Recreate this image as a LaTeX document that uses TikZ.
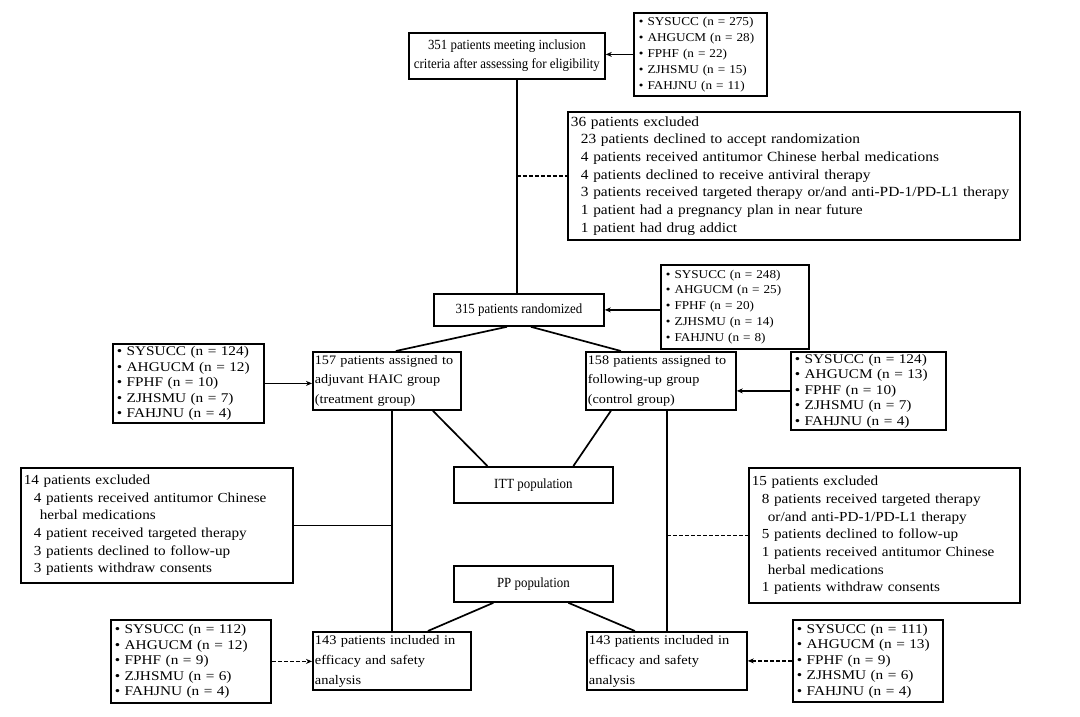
\documentclass[tikz,border=0pt]{standalone}
\usepackage{fontspec}
\setmainfont{Liberation Serif}
\newfontfamily\widefont{Liberation Serif}[FakeStretch=1.1]
\newfontfamily\widerfont{Liberation Serif}[FakeStretch=1.15]
\newfontfamily\condfont{Liberation Serif}[FakeStretch=0.92]
\usetikzlibrary{arrows.meta}
\newcommand{\sitelist}[5]{• SYSUCC (n = #1)\\• AHGUCM (n = #2)\\• FPHF (n = #3)\\• ZJHSMU (n = #4)\\• FAHJNU (n = #5)}
\newcommand{\ind}{\hspace*{10pt}}
\begin{document}
\begin{tikzpicture}[x=1pt,y=-1pt,
  bx/.style={draw, line width=1.8pt, inner xsep=5pt, inner ysep=0pt, anchor=north west, align=left},
  cbox/.style={bx, align=center, font=\condfont\fontsize{14}{19.5}\selectfont},
  gbox/.style={bx, inner xsep=2pt, font=\widefont\fontsize{12.9}{19.5}\selectfont},
  sitebox/.style={bx, font=\widerfont\fontsize{13.3}{15.5}\selectfont, inner xsep=4pt},
  smallsite/.style={bx, font=\widefont\fontsize{12}{16}\selectfont, inner xsep=5pt},
  exbox/.style={bx, font=\widefont\fontsize{13.8}{17.7}\selectfont, inner xsep=3pt},
  ln/.style={line width=1.7pt},
  dln/.style={ln, dash pattern=on 4pt off 2pt},
  arr/.style={line width=1.7pt, -{Stealth[length=6pt,width=5pt]}},
]
\useasboundingbox (0,0) rectangle (1080,717);

% top
\node[cbox, minimum width=196pt, minimum height=46pt] (top) at (408,32)
  {351 patients meeting inclusion\\criteria after assessing for eligibility};
\node[smallsite, minimum width=133pt, minimum height=83pt, text width=123pt] (s1) at (633,12) {\sitelist{275}{28}{22}{15}{11}};
\node[exbox, font=\widefont\fontsize{14}{17.7}\selectfont, minimum width=452pt, minimum height=128pt, text width=446pt] (ex1) at (567,111)
  {36 patients excluded\\
   \ind 23 patients declined to accept randomization\\
   \ind 4 patients received antitumor Chinese herbal medications\\
   \ind 4 patients declined to receive antiviral therapy\\
   \ind 3 patients received targeted therapy or/and anti-PD-1/PD-L1 therapy\\
   \ind 1 patient had a pregnancy plan in near future\\
   \ind 1 patient had drug addict};
\node[cbox, minimum width=170pt, minimum height=32pt] (rand) at (433,293) {315 patients randomized};
\node[smallsite, font=\widefont\fontsize{12}{15.8}\selectfont, minimum width=148pt, minimum height=84pt, text width=138pt] (s2) at (660,264) {\sitelist{248}{25}{20}{14}{8}};

% groups
\node[gbox, minimum width=148pt, minimum height=58pt, text width=144pt] (g1) at (312,351)
  {157 patients assigned to\\adjuvant HAIC group\\(treatment group)};
\node[gbox, minimum width=150pt, minimum height=58pt, text width=146pt] (g2) at (585,351)
  {158 patients assigned to\\following-up group\\(control group)};
\node[sitebox, minimum width=151pt, minimum height=79pt, text width=143pt] (sL) at (112,343) {\sitelist{124}{12}{10}{7}{4}};
\node[sitebox, minimum width=155pt, minimum height=78pt, text width=147pt] (sR) at (790,351) {\sitelist{124}{13}{10}{7}{4}};

\node[cbox, minimum width=159pt, minimum height=36pt] (itt) at (453,466) {ITT population};

\node[exbox, minimum width=272pt, minimum height=115pt, text width=266pt] (ex2) at (20,467)
  {14 patients excluded\\
   \ind 4 patients received antitumor Chinese\\
   \ind\hspace*{6pt}herbal medications\\
   \ind 4 patient received targeted therapy\\
   \ind 3 patients declined to follow-up\\
   \ind 3 patients withdraw consents};
\node[exbox, minimum width=271pt, minimum height=135pt, text width=265pt] (ex3) at (748,467)
  {15 patients excluded\\
   \ind 8 patients received targeted therapy\\
   \ind\hspace*{6pt}or/and anti-PD-1/PD-L1 therapy\\
   \ind 5 patients declined to follow-up\\
   \ind 1 patients received antitumor Chinese\\
   \ind\hspace*{6pt}herbal medications\\
   \ind 1 patients withdraw consents};

\node[cbox, minimum width=159pt, minimum height=36pt] (pp) at (453,565) {PP population};

\node[gbox, font=\widefont\fontsize{13.1}{20}\selectfont, minimum width=158pt, minimum height=58pt, text width=154pt] (a1) at (312,631)
  {143 patients included in\\efficacy and safety\\analysis};
\node[gbox, font=\widefont\fontsize{13.1}{20}\selectfont, minimum width=160pt, minimum height=58pt, text width=156pt] (a2) at (586,631)
  {143 patients included in\\efficacy and safety\\analysis};
\node[sitebox, minimum width=160pt, minimum height=83pt, text width=152pt] (sBL) at (110,619) {\sitelist{112}{12}{9}{6}{4}};
\node[sitebox, minimum width=150pt, minimum height=82pt, text width=142pt] (sBR) at (792,619) {\sitelist{111}{13}{9}{6}{4}};

% connectors
\coordinate (vtop) at ([xshift=-2pt]top.south -| rand.north);
\coordinate (vbot) at (vtop |- rand.north);
\draw[arr] (s1.west) -- (s1.west -| top.east);
\draw[ln] (vtop) -- (vbot);
\draw[dln] (vtop |- ex1.west) -- (ex1.west);
\draw[arr] (rand.east -| s2.west) -- (rand.east);
\draw[ln] ([xshift=-12pt]rand.south) -- ([xshift=9pt]g1.north);
\draw[ln] ([xshift=12pt]rand.south) -- ([xshift=-40pt]g2.north);
\draw[arr] (sL.east) -- (sL.east -| g1.west);
\draw[arr] (sR.west) -- (sR.west -| g2.east);
\draw[ln] ([xshift=46pt]g1.south) -- ([xshift=-46pt]itt.north);
\draw[ln] ([xshift=-50pt]g2.south) -- ([xshift=40pt]itt.north);
\draw[ln] (a1.north |- g1.south) -- (a1.north);
\draw[ln] (a2.north |- g2.south) -- (a2.north);
\draw[ln] (ex2.east) -- (ex2.east -| a1.north);
\draw[dln] (ex3.west -| a2.north) -- (ex3.west);
\draw[ln] ([xshift=-40pt]pp.south) -- ([xshift=36pt]a1.north);
\draw[ln] ([xshift=35pt]pp.south) -- ([xshift=-32pt]a2.north);
\draw[arr, dash pattern=on 4pt off 2pt] (sBL.east) -- (sBL.east -| a1.west);
\draw[arr, dash pattern=on 4pt off 2pt] (sBR.west) -- (sBR.west -| a2.east);
\end{tikzpicture}
\end{document}
